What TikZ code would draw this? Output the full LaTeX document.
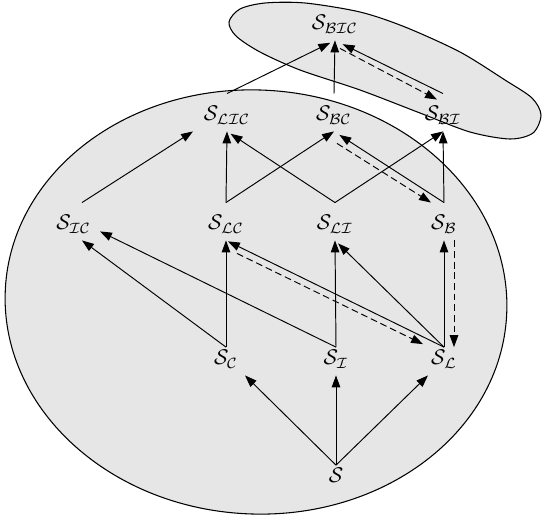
\documentclass[tikz,border=0pt]{standalone}
\usepackage{amsmath,amssymb}
\usepackage{xcolor}
\usepackage{tikz}
\usetikzlibrary{arrows.meta}
\definecolor{regiongray}{HTML}{E6E6E6}
\tikzset{
  state/.style={
    inner sep=2pt,
    text depth=2.7pt,
    anchor=base
  },
  lowstate/.style={
    state,
    text height=6.2pt
  },
  highstate/.style={
    state,
    text height=10.7pt
  },
  flowarrow/.style={
    -{Triangle[length=5.6pt,width=4pt]},
    line width=0.45pt
  },
  backarrow/.style={
    flowarrow,
    dash pattern=on 3.2pt off 1.8pt
  },
  region/.style={
    draw,
    line width=0.5pt,
    fill=regiongray
  }
}

\begin{document}
\begin{tikzpicture}[x=0.47pt, y=-0.47pt]
    \useasboundingbox (0,0) rectangle (544,518);
    \draw[region, rotate around={-3:(256,302)}] (256,302) ellipse (251 and 212);
    \draw[region] plot[smooth cycle] coordinates {(229,22) (240,9) (265,3) (305,3) (360,12) (405,27) (460,52) (505,80) (532,98) (541,115) (533,133) (510,139) (470,132) (420,113) (360,90) (300,70) (260,52) (236,36)};
    \node[lowstate] (S) at (336,483) {$\mathcal{S}$};
    \node[lowstate] (SC) at (226,365) {$\mathcal{S}_{\mathcal{C}}$};
    \node[lowstate] (SI) at (336,365) {$\mathcal{S}_{\mathcal{I}}$};
    \node[lowstate] (SL) at (444,365) {$\mathcal{S}_{\mathcal{L}}$};
    \node[highstate, text width=24pt, align=left] (IC) at (82,230) {$\mathcal{S}_{\mathcal{IC}}$};
    \node[highstate] (LC) at (226,230) {$\mathcal{S}_{\mathcal{LC}}$};
    \node[highstate] (LI) at (335,230) {$\mathcal{S}_{\mathcal{LI}}$};
    \node[highstate] (B) at (444,230) {$\mathcal{S}_{\mathcal{B}}$};
    \node[highstate] (LIC) at (227,121) {$\mathcal{S}_{\mathcal{LIC}}$};
    \node[highstate] (BC) at (334,121) {$\mathcal{S}_{\mathcal{BC}}$};
    \node[highstate] (BI) at (443,121) {$\mathcal{S}_{\mathcal{BI}}$};
    \node[lowstate] (BIC) at (335,30) {$\mathcal{S}_{\mathcal{BIC}}$};
    \foreach \a/\b/\s in {S/SI/0pt,SC/IC/0pt,SC/LC/0pt,SI/LI/0pt,SL/LC/1pt,SL/LI/2pt,SL/B/0pt,
        LC/LIC/0pt,LC/BC/0pt,LI/LIC/2pt,LI/BI/0pt,B/BC/3pt,B/BI/0pt,
        LIC/BIC/2.5pt,BC/BIC/0pt,BI/BIC/4pt}
      \draw[flowarrow, shorten >=\s] (\a.north) -- (\b.south);
    \draw[flowarrow] (S.north) -- ([shift={(19,0)}]SC.south);
    \draw[flowarrow] (S.north) -- ([shift={(-16,0)}]SL.south);
    \draw[flowarrow] (SI.north) -- ([shift={(18,-9)}]IC.south);
    \draw[flowarrow] (IC.north) -- ([shift={(-34,0)}]LIC.south);
    \draw[backarrow] ([shift={(10,0)}]B.south) -- ([shift={(10,0)}]SL.north);
    \draw[backarrow] ([shift={(11,13)}]LC.south) -- ([shift={(-21,-3)}]SL.north);
    \draw[backarrow] ([shift={(3,12)}]BC.south) -- ([shift={(-13,0)}]B.north);
    \draw[backarrow] ([shift={(5,8)}]BIC.south) -- ([shift={(-6,6)}]BI.north);
  \end{tikzpicture}
\end{document}
